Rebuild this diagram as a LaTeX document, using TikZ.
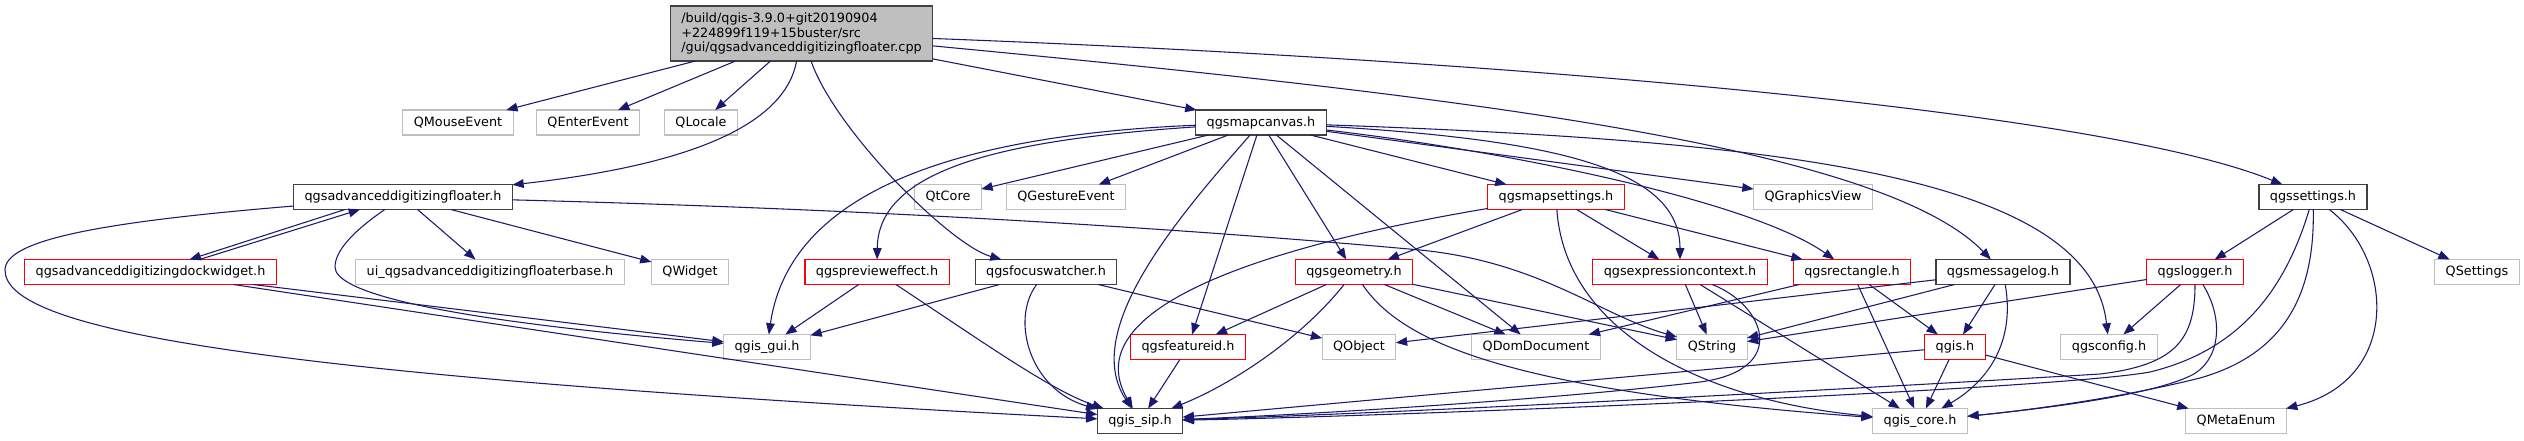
\documentclass[tikz,border=0pt]{standalone}
\usepackage{fontspec}
\setmainfont{DejaVu Sans}
\usepackage{xcolor}
\definecolor{edgeblue}  {HTML}{191970}
\definecolor{docline}   {HTML}{404040}
\definecolor{extline}   {HTML}{BFBFBF}
\definecolor{truncline} {HTML}{FF0000}
\definecolor{rootfill}  {HTML}{BFBFBF}
\usetikzlibrary{arrows.meta, calc}
\tikzset{
    hfile/.style={rectangle, draw, line width=0.8pt, minimum height=18.75pt,
                  inner xsep=8.2pt, inner ysep=0pt, outer sep=0pt,
                  font=\fontsize{9.6}{10.9}\selectfont, fill=white},
    hdoc/.style={hfile, draw=docline},
    htrunc/.style={hfile, draw=truncline},
    hext/.style={hfile, draw=extline},
    hroot/.style={hfile, draw=docline, fill=rootfill, align=left,
                  minimum height=41.25pt},
    dep/.style={-{Triangle[length=8.5pt, width=6.5pt]}, line width=0.8pt, edgeblue},
}

\begin{document}
\begin{tikzpicture}[x=0.75pt, y=-0.75pt]
    \useasboundingbox (0,0) rectangle (2524,440);
    % row 0
    \node[hroot] (root) at (801.5,33.5)
        {/build/qgis-3.9.0+git20190904\\+224899f119+15buster/src\\/gui/qgsadvanceddigitizingfloater.cpp};
    % row 1
    \node[hext] (qmouse)  at (458,122.5) {QMouseEvent};
    \node[hext] (qenter)  at (588,122.5) {QEnterEvent};
    \node[hext] (qlocale) at (701,122.5) {QLocale};
    \node[hdoc] (canvas)  at (1261,122.5) {qgsmapcanvas.h};
    % row 2
    \node[hdoc]   (floater)  at (403,197) {qgsadvanceddigitizingfloater.h};
    \node[hext]   (qtcore)   at (948,197) {QtCore};
    \node[hext]   (qgesture) at (1066,197) {QGestureEvent};
    \node[htrunc] (mapset)   at (1556,197) {qgsmapsettings.h};
    \node[hext]   (qgview)   at (1813,197) {QGraphicsView};
    \node[hdoc]   (settings) at (2313,197) {qgssettings.h};
    % row 3
    \node[htrunc] (dock)      at (150.5,272) {qgsadvanceddigitizingdockwidget.h};
    \node[hext]   (uibase)    at (490,272) {ui\_qgsadvanceddigitizingfloaterbase.h};
    \node[hext]   (qwidget)   at (690,272) {QWidget};
    \node[htrunc] (preview)   at (877,272) {qgsprevieweffect.h};
    \node[hdoc]   (focus)     at (1046,272) {qgsfocuswatcher.h};
    \node[htrunc] (geom)      at (1354,272) {qgsgeometry.h};
    \node[htrunc] (exprctx)   at (1680,272) {qgsexpressioncontext.h};
    \node[htrunc] (rect)      at (1852,272) {qgsrectangle.h};
    \node[hdoc]   (msglog)    at (2003,272) {qgsmessagelog.h};
    \node[htrunc] (logger)    at (2195,272) {qgslogger.h};
    \node[hext]   (qsettings) at (2477,272) {QSettings};
    % row 4
    \node[hext]   (gui)     at (767,347) {qgis\_gui.h};
    \node[htrunc] (featid)  at (1188,347) {qgsfeatureid.h};
    \node[hext]   (qobject) at (1359,347) {QObject};
    \node[hext]   (qdom)    at (1536,347) {QDomDocument};
    \node[hext]   (qstring) at (1712,347) {QString};
    \node[htrunc] (qgis)    at (1955,347) {qgis.h};
    \node[hext]   (config)  at (2109,347) {qgsconfig.h};
    % row 5
    \node[hdoc] (sip)      at (1140,421) {qgis\_sip.h};
    \node[hext] (core)     at (1920,421) {qgis\_core.h};
    \node[hext] (metaenum) at (2236,421) {QMetaEnum};

    % includes of the .cpp
    \draw[dep] (root) -- (qmouse);
    \draw[dep] (root) -- (qenter);
    \draw[dep] (root) -- (qlocale);
    \draw[dep] (root) .. controls (785,125) and (690,165) .. (floater);
    \draw[dep] (root) .. controls (835,130) and (950,245) .. (focus);
    \draw[dep] (root) -- (canvas);
    \draw[dep] (root) .. controls (1450,95) and (1880,145) .. (msglog);
    \draw[dep] (root) .. controls (1500,60) and (2100,110) .. (settings);
    % floater / dock widget
    \draw[dep] ($(floater.south)+(-58,0)$) -- ($(dock.north)+(39,0)$);
    \draw[dep] ($(dock.north)+(49,0)$) -- ($(floater.south)+(-43,0)$);
    \draw[dep] (floater) -- (uibase);
    \draw[dep] (floater) -- (qwidget);
    \draw[dep] (floater) .. controls (355,230) and (335,250) .. (335,267)
                         .. controls (335,290) and (420,318) .. (gui);
    \draw[dep] (floater) .. controls (100,222) and (5,240) .. (5,270)
                         .. controls (5,330) and (250,375) .. (sip);
    \draw[dep] (floater) .. controls (900,210) and (1200,230) .. (1420,250)
                         .. controls (1540,262) and (1600,315) .. (qstring);
    \draw[dep] (dock) -- (gui);
    \draw[dep] (dock) -- (sip);
    % map canvas
    \draw[dep] (canvas) .. controls (1000,140) and (878,170) .. (preview);
    \draw[dep] (canvas) .. controls (960,135) and (790,190) .. (gui);
    \draw[dep] (canvas) -- (qtcore);
    \draw[dep] (canvas) -- (qgesture);
    \draw[dep] (canvas) .. controls (1180,215) and (1080,330) .. (sip);
    \draw[dep] (canvas) -- (featid);
    \draw[dep] (canvas) -- (geom);
    \draw[dep] (canvas) -- (qdom);
    \draw[dep] (canvas) -- (mapset);
    \draw[dep] (canvas) -- (qgview);
    \draw[dep] (canvas) .. controls (1560,140) and (1680,170) .. (exprctx);
    \draw[dep] (canvas) .. controls (1500,150) and (1750,200) .. (rect);
    \draw[dep] (canvas) .. controls (1750,140) and (2090,170) .. (config);
    % map settings
    \draw[dep] (mapset) .. controls (1300,240) and (1070,300) .. (sip);
    \draw[dep] (mapset) -- (geom);
    \draw[dep] (mapset) -- (exprctx);
    \draw[dep] (mapset) -- (rect);
    \draw[dep] (mapset) .. controls (1565,330) and (1700,400) .. (core);
    % preview effect, focus watcher
    \draw[dep] (preview) -- (gui);
    \draw[dep] (preview) .. controls (980,340) and (1050,390) .. (sip);
    \draw[dep] (focus) -- (gui);
    \draw[dep] (focus) .. controls (1010,320) and (1030,390) .. (sip);
    \draw[dep] (focus) -- (qobject);
    % geometry
    \draw[dep] (geom) -- (featid);
    \draw[dep] (geom) .. controls (1300,340) and (1230,385) .. (sip);
    \draw[dep] (geom) -- (qdom);
    \draw[dep] (geom) -- (qstring);
    \draw[dep] (geom) .. controls (1400,340) and (1500,390) .. (core);
    \draw[dep] (featid) -- (sip);
    % expression context, rectangle
    \draw[dep] (exprctx) -- (qstring);
    \draw[dep] (exprctx) -- (core);
    \draw[dep] (exprctx) .. controls (1765,305) and (1790,370) .. (1700,382)
                         .. controls (1550,400) and (1300,415) .. (sip);
    \draw[dep] (rect) -- (qdom);
    \draw[dep] (rect) -- (core);
    \draw[dep] (rect) -- (qgis);
    % message log, qgis.h
    \draw[dep] (msglog) -- (qobject);
    \draw[dep] (msglog) -- (qstring);
    \draw[dep] (msglog) -- (qgis);
    \draw[dep] (msglog) .. controls (2015,340) and (1990,380) .. (core);
    \draw[dep] (qgis) -- (sip);
    \draw[dep] (qgis) -- (core);
    \draw[dep] (qgis) -- (metaenum);
    % logger
    \draw[dep] (logger) -- (qstring);
    \draw[dep] (logger) -- (config);
    \draw[dep] (logger) .. controls (2195,340) and (2175,365) .. (2100,374)
                        .. controls (1800,392) and (1400,413) .. (sip);
    \draw[dep] (logger) .. controls (2225,320) and (2220,362) .. (2190,376)
                        .. controls (2150,395) and (2050,408) .. (core);
    % settings
    \draw[dep] (settings) -- (logger);
    \draw[dep] (settings) .. controls (2285,290) and (2240,350) .. (2150,372)
                          .. controls (2050,390) and (1400,416) .. (sip);
    \draw[dep] (settings) .. controls (2315,300) and (2280,355) .. (2200,378)
                          .. controls (2120,398) and (2030,410) .. (core);
    \draw[dep] (settings) .. controls (2395,260) and (2400,380) .. (metaenum);
    \draw[dep] (settings) -- (qsettings);
\end{tikzpicture}
\end{document}
